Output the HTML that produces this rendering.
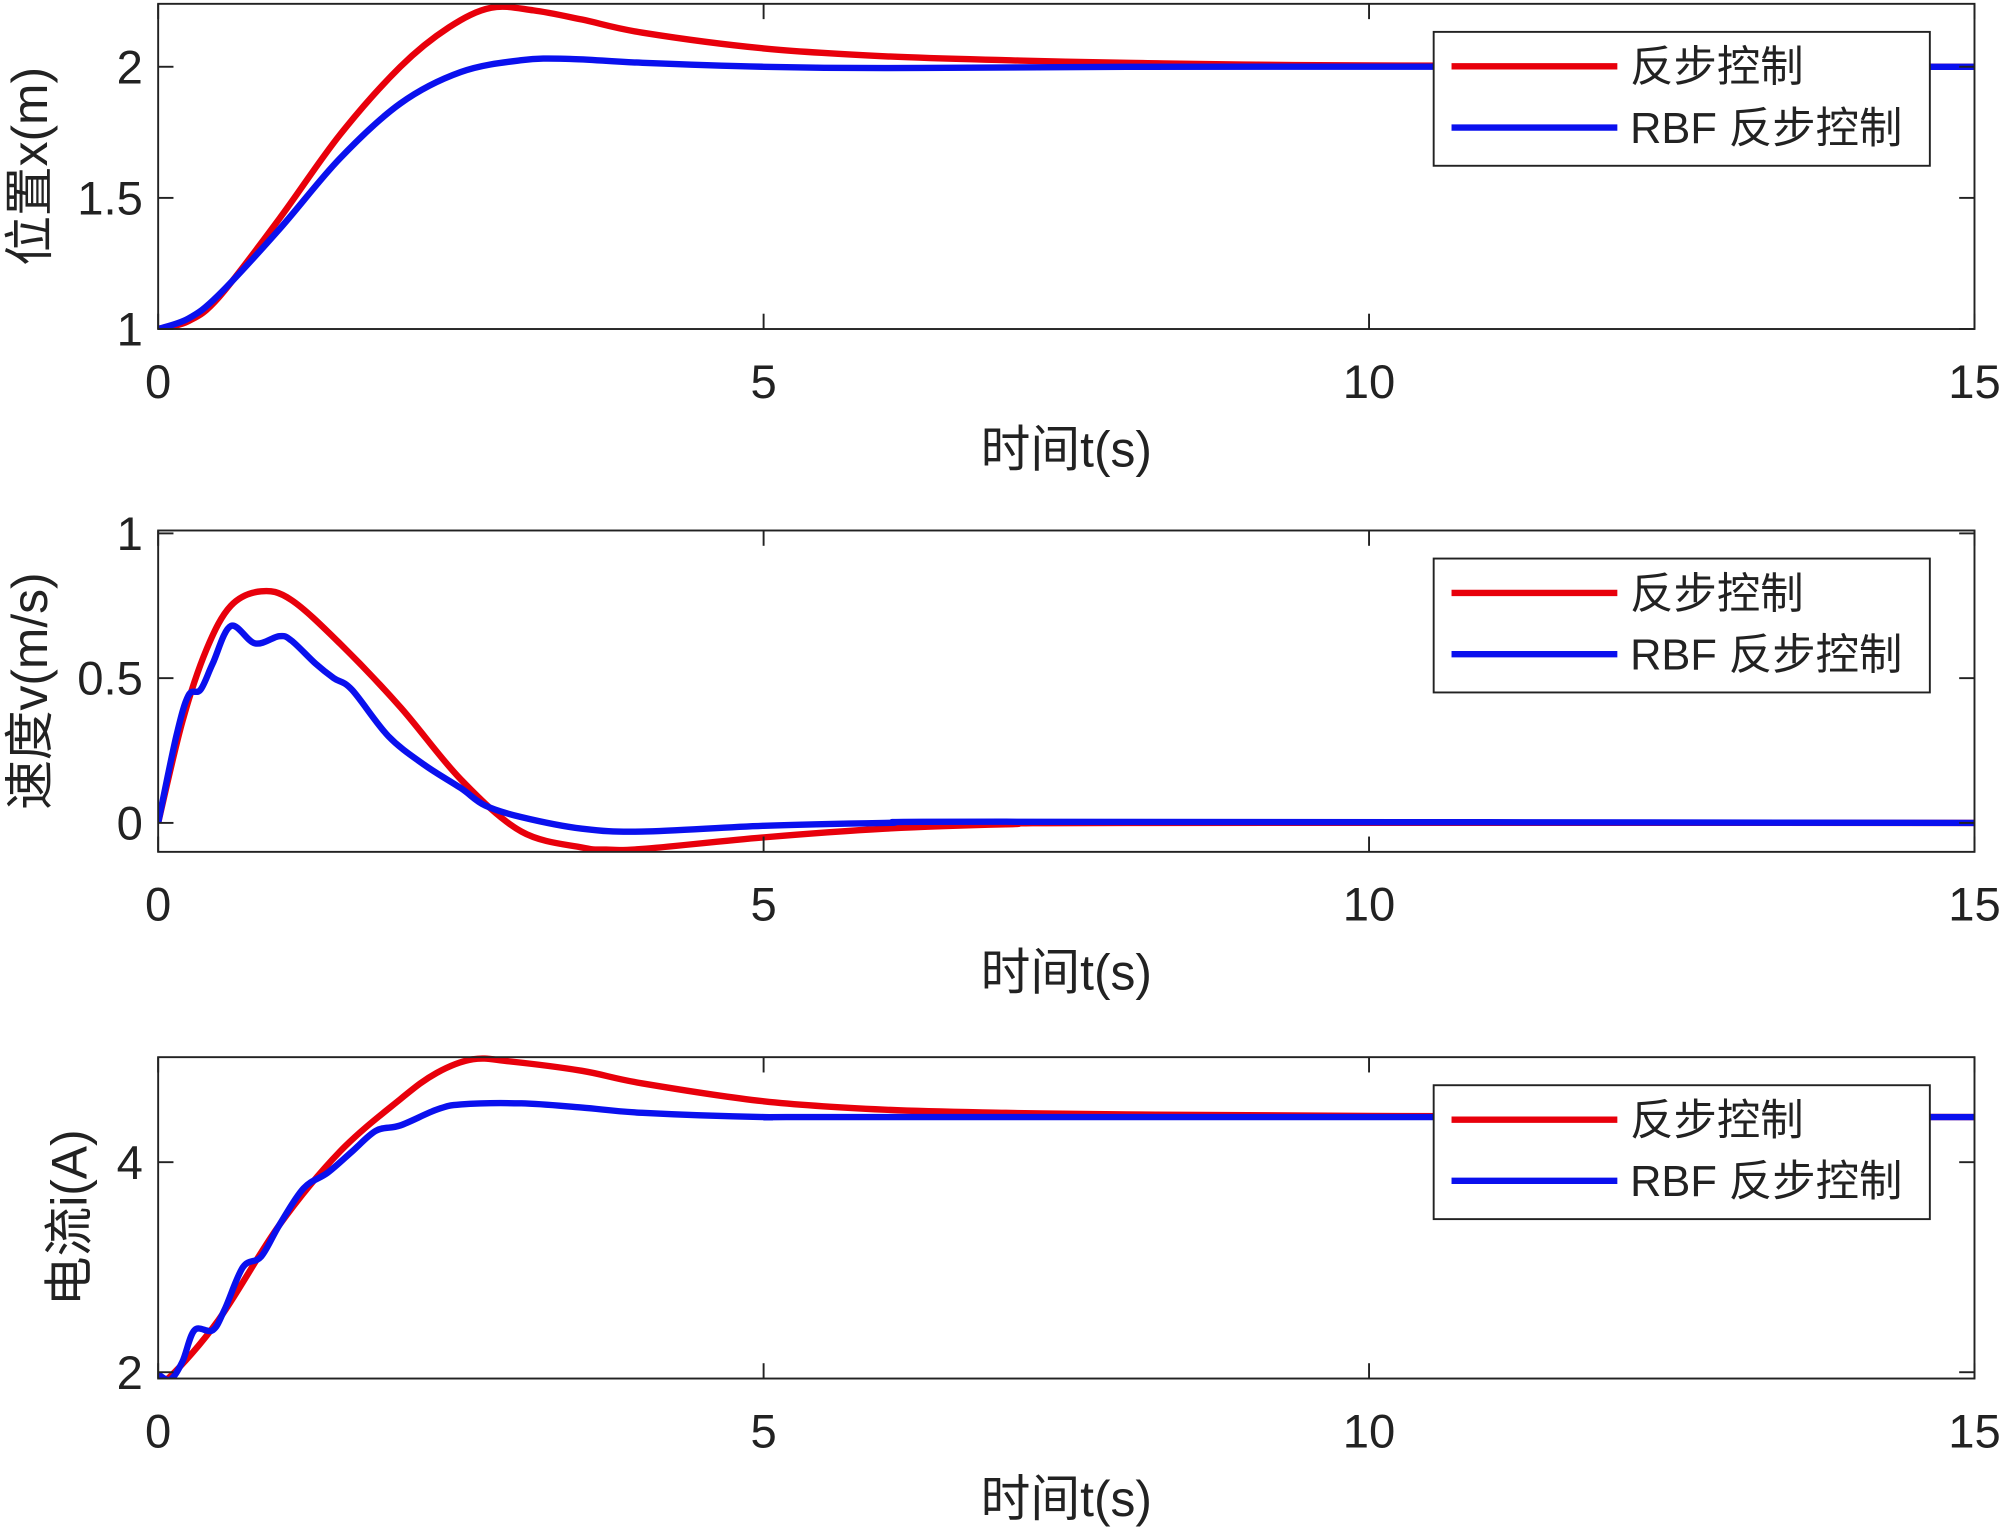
<!DOCTYPE html>
<html><head><meta charset="utf-8"><style>
html,body{margin:0;padding:0;background:#fff}
svg{display:block}
text{font-family:"Liberation Sans","Noto Sans CJK SC",sans-serif;fill:#222}
</style></head><body>
<svg id="chart" width="2000" height="1529" viewBox="0 0 1568 1199" preserveAspectRatio="none"></svg>
<script>
const xTicks=[0,5,10,15];
const pos_t_red=[0,0.25,0.5,1,1.5,2,2.4,2.75,3.1,3.5,4,5,6,7,8,10,15];
const pos_red=[1,1.03,1.12,1.42,1.74,2.0,2.15,2.225,2.215,2.18,2.13,2.07,2.04,2.025,2.015,2.005,2.0];
const pos_t_blue=[0,0.25,0.5,1,1.5,2,2.5,3,3.4,4,5,6,8,15];
const pos_blue=[1,1.04,1.13,1.38,1.65,1.86,1.98,2.025,2.03,2.015,2.0,1.995,2.0,2.0];
const vel_t_red=[0,0.2,0.4,0.6,0.85,1.1,1.5,2,2.5,3,3.5,3.7,4,5,6,7,8,15];
const vel_red=[0,0.35,0.6,0.75,0.8,0.77,0.62,0.4,0.15,-0.03,-0.085,-0.092,-0.09,-0.05,-0.02,-0.005,0,0];
const vel_t_blue=[0,0.15,0.25,0.35,0.45,0.6,0.8,1.0,1.1,1.3,1.45,1.6,1.9,2.2,2.5,2.7,3,3.5,4,5,6,7,15];
const vel_blue=[0,0.3,0.44,0.46,0.55,0.68,0.62,0.645,0.63,0.55,0.5,0.46,0.3,0.2,0.12,0.06,0.02,-0.02,-0.03,-0.01,0,0.004,0];
const cur_t_red=[0,0.1,0.5,1,1.5,2,2.3,2.6,2.9,3.5,4,5,6,7,8,10,15];
const cur_red=[1.95,1.96,2.5,3.4,4.1,4.6,4.85,4.98,4.96,4.87,4.75,4.58,4.5,4.47,4.455,4.44,4.43];
const cur_t_blue=[0,0.1,0.2,0.3,0.45,0.55,0.7,0.85,1.0,1.2,1.4,1.6,1.8,2,2.3,2.5,3,3.5,4,5,6,15];
const cur_blue=[1.98,1.93,2.1,2.4,2.4,2.6,3.0,3.1,3.4,3.75,3.9,4.1,4.3,4.35,4.5,4.55,4.56,4.52,4.47,4.43,4.43,4.43];
const legendLabels=["反步控制","RBF 反步控制"];
const panels=[
 {name:"position",top:3,bot:258,ymin:1,ymax:2.24,yt:[1,1.5,2],ytl:["1","1.5","2"],ylabel:"位置x(m)",ylx:24,lt:25,
  series:[[pos_t_red,pos_red],[pos_t_blue,pos_blue]]},
 {name:"velocity",top:416,bot:668,ymin:-0.1,ymax:1.01,yt:[0,0.5,1],ytl:["0","0.5","1"],ylabel:"速度v(m/s)",ylx:24,lt:438,
  series:[[vel_t_red,vel_red],[vel_t_blue,vel_blue]]},
 {name:"current",top:829,bot:1081,ymin:1.94,ymax:5,yt:[2,4],ytl:["2","4"],ylabel:"电流i(A)",ylx:55,lt:851,
  series:[[cur_t_red,cur_red],[cur_t_blue,cur_blue]]}
];
const colors=["#e8000b","#0a10ee"];
const NS="http://www.w3.org/2000/svg";
const svg=document.getElementById('chart');
const L=124,R=1548;
function xs(t){return L+(t/15)*(R-L);}
function mk(tag,attrs,parent){const e=document.createElementNS(NS,tag);for(const k in attrs)e.setAttribute(k,attrs[k]);(parent||svg).appendChild(e);return e;}
function smooth(pts){let d="M"+pts[0][0]+","+pts[0][1];for(let i=0;i<pts.length-1;i++){const p0=pts[Math.max(0,i-1)],p1=pts[i],p2=pts[i+1],p3=pts[Math.min(pts.length-1,i+2)];
 const c1=[p1[0]+(p2[0]-p0[0])/6,p1[1]+(p2[1]-p0[1])/6],c2=[p2[0]-(p3[0]-p1[0])/6,p2[1]-(p3[1]-p1[1])/6];
 d+=" C"+c1[0]+","+c1[1]+" "+c2[0]+","+c2[1]+" "+p2[0]+","+p2[1];}return d;}
panels.forEach(p=>{
 const g=mk('g',{});
 
 
 const ys=v=>p.bot-(v-p.ymin)/(p.ymax-p.ymin)*(p.bot-p.top);
 const cp=mk('clipPath',{id:'c'+p.name},g);mk('rect',{x:L,y:p.top-2,width:R-L,height:p.bot-p.top+2},cp);
 p.series.forEach((s,si)=>{
  const pts=s[0].map((t,i)=>[xs(t),ys(s[1][i])]);
  const path=mk('path',{d:smooth(pts),fill:'none',stroke:colors[si],'stroke-width':5,'stroke-linejoin':'round','clip-path':'url(#c'+p.name+')'},g);
  
  
 });
 const box=mk('rect',{x:L,y:p.top,width:R-L,height:p.bot-p.top,fill:'none',stroke:'#222','stroke-width':1.5},g);
 
 
 xTicks.forEach(t=>{const x=xs(t);
  mk('line',{x1:x,x2:x,y1:p.bot,y2:p.bot-12,stroke:'#222','stroke-width':1.5},g);
  mk('line',{x1:x,x2:x,y1:p.top,y2:p.top+12,stroke:'#222','stroke-width':1.5},g);
  const tl=mk('text',{x:x,y:p.bot+54,'font-size':37,'text-anchor':'middle'},g);tl.textContent=t;
  
  
 });
 p.yt.forEach((v,i)=>{const y=ys(v);
  mk('line',{x1:L,x2:L+12,y1:y,y2:y,stroke:'#222','stroke-width':1.5},g);
  mk('line',{x1:R,x2:R-12,y1:y,y2:y,stroke:'#222','stroke-width':1.5},g);
  const tl=mk('text',{x:L-12,y:y+13,'font-size':37,'text-anchor':'end'},g);tl.textContent=p.ytl[i];
  
  
 });
 const xl=mk('text',{x:836,y:p.bot+108,'font-size':39,'text-anchor':'middle'},g);xl.textContent="时间t(s)";
 
 
 const cy=(p.top+p.bot)/2;
 const yl=mk('text',{x:p.ylx,y:cy+13,'font-size':39,'text-anchor':'middle',transform:'rotate(-90 '+(p.ylx)+' '+cy+')'},g);yl.textContent=p.ylabel;
 
 
 const lg=mk('g',{},g);
 
 
 mk('rect',{x:1124,y:p.lt,width:389,height:105,fill:'#fff',stroke:'#222','stroke-width':1.5},lg);
 legendLabels.forEach((lab,i)=>{const y=p.lt+27+i*48;
  mk('line',{x1:1138,x2:1268,y1:y,y2:y,stroke:colors[i],'stroke-width':5},lg);
  const t=mk('text',{x:1278,y:y+12,'font-size':34},lg);t.textContent=lab;
  
  
 });
});
</script>
</body></html>
